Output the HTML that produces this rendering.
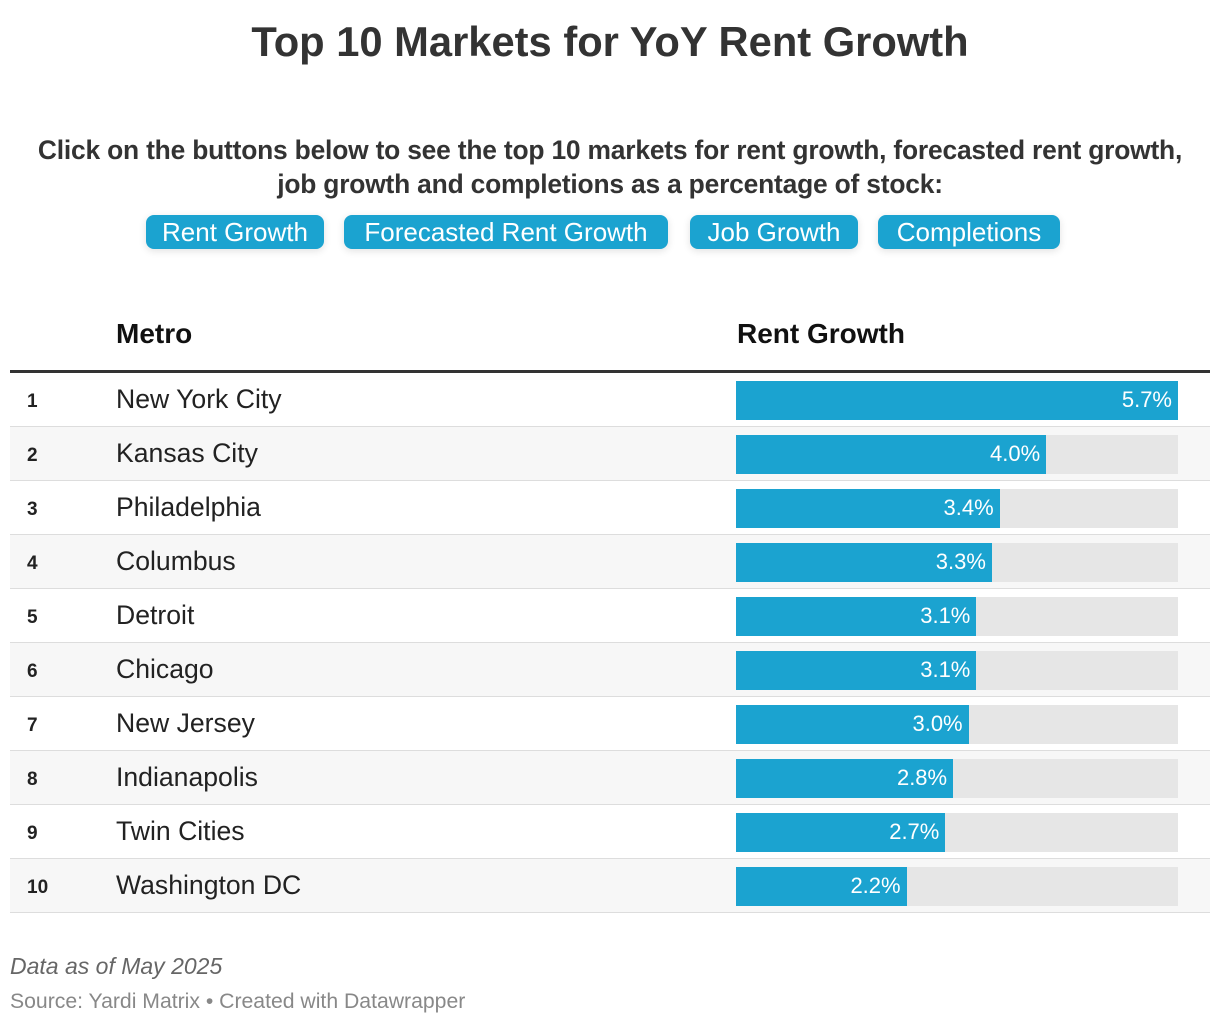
<!DOCTYPE html>
<html><head><meta charset="utf-8"><style>
body{margin:0;width:1220px;height:1026px;background:#fff;font-family:"Liberation Sans",sans-serif;color:#222;position:relative;overflow:hidden}
.abs{position:absolute}
#title{left:0;width:1220px;top:18px;text-align:center;font-size:41.7px;font-weight:bold;color:#333}
#sub{left:0;width:1220px;top:133px;text-align:center;font-size:26.4px;font-weight:bold;color:#333;line-height:34px;letter-spacing:-0.2px}
.btn{position:absolute;top:215px;height:34px;line-height:34px;background:#1ba3d0;color:#fff;font-size:26px;border-radius:8px;box-shadow:0 2px 8px rgba(0,0,0,0.12);text-align:center}
.hdr{top:318px;font-size:28px;font-weight:bold;color:#111}
#rule{left:10px;top:370px;width:1200px;height:3px;background:#333}
.row{position:absolute;left:10px;width:1200px;height:53px;border-bottom:1px solid #ddd}
.rank{position:absolute;left:17px;top:18px;font-size:19px;font-weight:bold;color:#222}
.metro{position:absolute;left:106px;top:11px;font-size:26.6px;color:#222}
.track{position:absolute;left:726px;top:8px;width:442px;height:39px;background:#e6e6e6}
.bar{position:absolute;left:0;top:0;height:39px;background:#1ba3d0}
.val{position:absolute;right:6px;top:6px;font-size:22px;color:#fff}
#note{left:10px;top:953px;font-size:23px;font-style:italic;color:#666}
#src{left:10px;top:990px;font-size:21.2px;color:#888}
</style></head><body>
<div id="title" class="abs">Top 10 Markets for YoY Rent Growth</div>
<div id="sub" class="abs">Click on the buttons below to see the top 10 markets for rent growth, forecasted rent growth,<br>job growth and completions as a percentage of stock:</div>
<div class="btn" style="left:146px;width:178px">Rent Growth</div>
<div class="btn" style="left:344px;width:324px">Forecasted Rent Growth</div>
<div class="btn" style="left:690px;width:168px">Job Growth</div>
<div class="btn" style="left:878px;width:182px">Completions</div>
<div class="abs hdr" style="left:116px">Metro</div>
<div class="abs hdr" style="left:737px">Rent Growth</div>
<div id="rule" class="abs"></div>
<div id="rows"></div>
<div id="note" class="abs">Data as of May 2025</div>
<div id="src" class="abs">Source: Yardi Matrix • Created with Datawrapper</div>
<script>
const metros=["New York City","Kansas City","Philadelphia","Columbus","Detroit","Chicago","New Jersey","Indianapolis","Twin Cities","Washington DC"];
const values=[5.7,4.0,3.4,3.3,3.1,3.1,3.0,2.8,2.7,2.2];
const maxVal=5.7;
const cont=document.getElementById('rows');
metros.forEach((m,i)=>{
  const r=document.createElement('div');
  r.className='row';
  
  
  r.style.top=(373+i*54)+'px';
  r.style.background=i%2?'#f7f7f7':'#fff';
  const rk=document.createElement('div');rk.className='rank';rk.textContent=i+1;
  
  
  const mt=document.createElement('div');mt.className='metro';mt.textContent=m;
  
  
  const tr=document.createElement('div');tr.className='track';
  
  
  const b=document.createElement('div');b.className='bar';b.style.width=(values[i]/maxVal*442)+'px';
  
  
  const v=document.createElement('div');v.className='val';v.textContent=values[i].toFixed(1)+'%';
  
  
  b.appendChild(v);tr.appendChild(b);
  r.appendChild(rk);r.appendChild(mt);r.appendChild(tr);
  cont.appendChild(r);
});
</script>
</body></html>
